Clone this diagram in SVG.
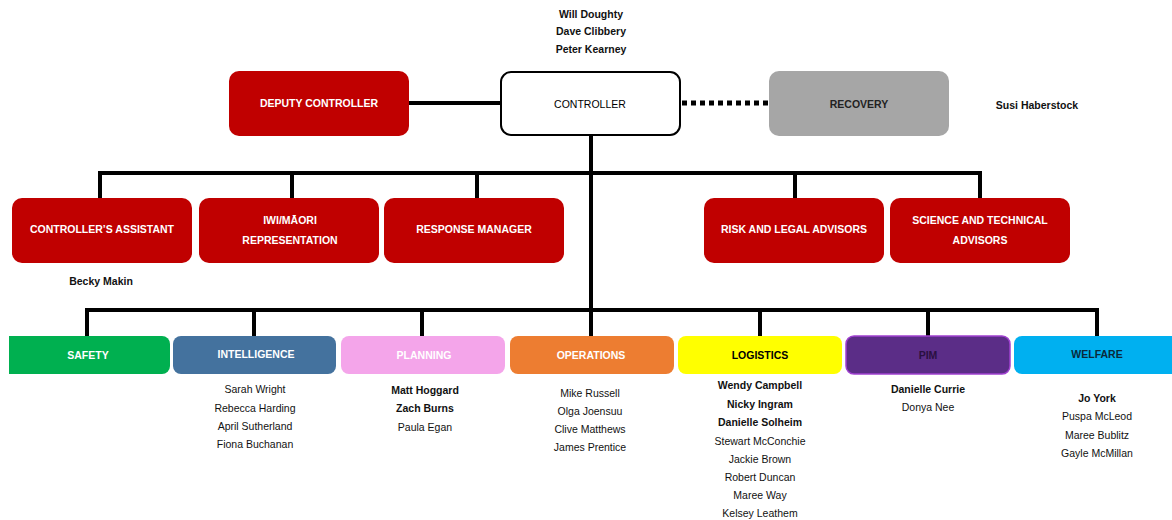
<svg xmlns="http://www.w3.org/2000/svg" width="1172" height="520" viewBox="0 0 1172 520">
<style>
.t{font-family:"Liberation Sans",Arial,sans-serif;font-size:10.5px;font-weight:bold;text-anchor:middle;dominant-baseline:central}
.w{fill:#fff}
.k{fill:#000}
.n{font-family:"Liberation Sans",Arial,sans-serif;font-size:10.5px;text-anchor:middle;dominant-baseline:central;fill:#111}
.b{font-weight:bold}
.ln{stroke:#000;stroke-width:4;fill:none}
.red{fill:#C00000}
</style>
<rect width="1172" height="520" fill="#fff"/>
<g id="connectors">
<path class="ln" d="M409 103H500"/>
<path d="M682 103H769" stroke="#000" stroke-width="5" stroke-dasharray="5 4" fill="none"/>
<path class="ln" d="M591 135V336"/>
<path class="ln" d="M100 173H980M100 171V198M292 171V198M477 171V198M795 171V198M980 171V198"/>
<path class="ln" d="M87 310H1097M87 308V336M254 308V336M422 308V336M760 308V336M928 308V336M1097 308V336"/>
</g>
<g id="names-top">
<text class="n b" x="591" y="14">Will Doughty</text>
<text class="n b" x="591" y="31">Dave Clibbery</text>
<text class="n b" x="591" y="49">Peter Kearney</text>
</g>
<g id="controller">
<rect x="501" y="72" width="179" height="63" rx="10" fill="#fff" stroke="#000" stroke-width="2"/>
<text class="t k" x="590" y="104" style="font-weight:normal">CONTROLLER</text>
</g>
<g id="deputy">
<rect class="red" x="229" y="71" width="180" height="65" rx="10"/>
<text class="t w" x="319" y="103">DEPUTY CONTROLLER</text>
</g>
<g id="recovery">
<rect x="769" y="71" width="180" height="65" rx="10" fill="#A6A6A6"/>
<text class="t k" x="859" y="104" style="fill:#222">RECOVERY</text>
</g>
<text class="n b" x="1037" y="105">Susi Haberstock</text>
<g id="assistant">
<rect class="red" x="12" y="198" width="180" height="65" rx="10"/>
<text class="t w" x="102" y="229">CONTROLLER’S ASSISTANT</text>
<text class="n b" x="101" y="281">Becky Makin</text>
</g>
<g id="iwi">
<rect class="red" x="199" y="198" width="180" height="65" rx="10"/>
<text class="t w" x="290" y="220">IWI/MĀORI</text>
<text class="t w" x="290" y="240">REPRESENTATION</text>
</g>
<g id="response">
<rect class="red" x="384" y="198" width="180" height="65" rx="10"/>
<text class="t w" x="474" y="229">RESPONSE MANAGER</text>
</g>
<g id="risk">
<rect class="red" x="704" y="198" width="180" height="65" rx="10"/>
<text class="t w" x="794" y="229">RISK AND LEGAL ADVISORS</text>
</g>
<g id="science">
<rect class="red" x="890" y="198" width="180" height="65" rx="10"/>
<text class="t w" x="980" y="220">SCIENCE AND TECHNICAL</text>
<text class="t w" x="980" y="240">ADVISORS</text>
</g>
<g id="safety">
<path d="M9 336H162a8 8 0 0 1 8 8V366a8 8 0 0 1-8 8H9Z" fill="#00B050"/>
<text class="t w" x="88" y="355">SAFETY</text>
</g>
<g id="intelligence">
<rect x="173" y="336" width="163" height="38" rx="8" fill="#44729E"/>
<text class="t w" x="256" y="354">INTELLIGENCE</text>
<text class="n" x="255" y="389">Sarah Wright</text>
<text class="n" x="255" y="408">Rebecca Harding</text>
<text class="n" x="255" y="426">April Sutherland</text>
<text class="n" x="255" y="444">Fiona Buchanan</text>
</g>
<g id="planning">
<rect x="341" y="336" width="164" height="38" rx="8" fill="#F4A5EA"/>
<text class="t w" x="424" y="355">PLANNING</text>
<text class="n b" x="425" y="390">Matt Hoggard</text>
<text class="n b" x="425" y="408">Zach Burns</text>
<text class="n" x="425" y="427">Paula Egan</text>
</g>
<g id="operations">
<rect x="510" y="336" width="164" height="38" rx="8" fill="#ED7D31"/>
<text class="t w" x="591" y="355">OPERATIONS</text>
<text class="n" x="590" y="393">Mike Russell</text>
<text class="n" x="590" y="411">Olga Joensuu</text>
<text class="n" x="590" y="429">Clive Matthews</text>
<text class="n" x="590" y="447">James Prentice</text>
</g>
<g id="logistics">
<rect x="678" y="336" width="164" height="38" rx="8" fill="#FFFF00"/>
<text class="t k" x="760" y="355">LOGISTICS</text>
<text class="n b" x="760" y="385">Wendy Campbell</text>
<text class="n b" x="760" y="404">Nicky Ingram</text>
<text class="n b" x="760" y="422">Danielle Solheim</text>
<text class="n" x="760" y="441">Stewart McConchie</text>
<text class="n" x="760" y="459">Jackie Brown</text>
<text class="n" x="760" y="477">Robert Duncan</text>
<text class="n" x="760" y="495">Maree Way</text>
<text class="n" x="760" y="513">Kelsey Leathem</text>
</g>
<g id="pim">
<rect x="846" y="336" width="164" height="38" rx="8" fill="#5B2D87" stroke="#A040D0" stroke-width="1.5"/>
<text class="t" x="928" y="355" style="fill:#2a1040">PIM</text>
<text class="n b" x="928" y="389">Danielle Currie</text>
<text class="n" x="928" y="407">Donya Nee</text>
</g>
<g id="welfare">
<path d="M1022 336H1172V374H1022a8 8 0 0 1-8-8V344a8 8 0 0 1 8-8Z" fill="#00B0F0"/>
<text class="t" x="1097" y="354" style="fill:#0a2a3a">WELFARE</text>
<text class="n b" x="1097" y="398">Jo York</text>
<text class="n" x="1097" y="416">Puspa McLeod</text>
<text class="n" x="1097" y="435">Maree Bublitz</text>
<text class="n" x="1097" y="453">Gayle McMillan</text>
</g>
</svg>
